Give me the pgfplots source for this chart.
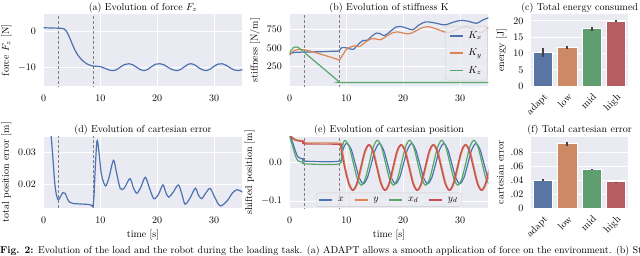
\documentclass[border=0pt]{standalone}
\usepackage{pgfplots}
\pgfplotsset{compat=1.18}
\definecolor{sbbg}{HTML}{EAEAF2}
\definecolor{c0}{HTML}{4C72B0}
\definecolor{c1}{HTML}{DD8452}
\definecolor{c2}{HTML}{55A868}
\definecolor{c3}{HTML}{C44E52}
\definecolor{b0}{HTML}{5975A4}
\definecolor{b1}{HTML}{CC8963}
\definecolor{b2}{HTML}{5F9E6E}
\definecolor{b3}{HTML}{B55D60}
\definecolor{errc}{HTML}{424242}
\definecolor{dashc}{HTML}{808080}
\pgfplotsset{
  sb/.style={scale only axis, axis background/.style={fill=sbbg},
    grid=major, grid style={white, line width=0.9pt},
    axis line style={draw=none}, major tick length=0pt,
    xticklabel shift=5pt, yticklabel shift=4pt,
    every axis title/.style={at={(0.5,1)}, anchor=base, yshift=4pt},
    scaled y ticks=false},
  tl/.style={sb, width=199pt, height=71.8pt, xmin=0, xmax=35, xtick={0,10,20,30}},
  br/.style={sb, width=97.3pt, height=71.8pt, xmin=-0.5, xmax=3.5, xtick={0,1,2,3},
    xticklabels={adapt,low,mid,high}, xmajorgrids=false,
    xticklabel style={rotate=45, anchor=north east, inner sep=1pt}},
  ln/.style={line width=1.2pt, mark=none, smooth, tension=0.5},
  dl/.style={dashc, line width=0.9pt, dash pattern=on 3pt off 2pt, forget plot},
  bb/.style={ybar, bar width=0.8, bar shift=0pt, draw=white, line width=1pt,
    error bars/y dir=both, error bars/y explicit, error bars/error mark=none,
    error bars/error bar style={line width=2pt, errc}},
  lg/.style={legend style={fill=sbbg, fill opacity=0.8, text opacity=1, draw=black!20,
    rounded corners=2pt, inner sep=2pt,
    /tikz/every odd column/.append style={column sep=3pt}},
    legend cell align=left,
    legend image code/.code={\draw[##1, line width=1.5pt, sharp plot] (0pt,0pt) -- (13pt,0pt);}},
}
\begin{document}
\begin{tikzpicture}
\path[use as bounding box] (0,0) rectangle (640pt,-255pt);

% (a)
\begin{axis}[tl, at={(43.5pt,-86.1pt)}, anchor=south west, ymin=-15.1, ymax=4.83,
  ytick={-10,0}, ylabel={force $F_z$ [N]}, title={(a) Evolution of force $F_z$}]
\addplot[dl] coordinates {(2.6,-20)(2.6,10)};
\addplot[dl] coordinates {(8.8,-20)(8.8,10)};
\addplot[ln, c0] coordinates {(0,1.1)(1,1.05)(2,1.0)(3,0.95)(3.6,0.8)(4,0.2)(4.5,-1.3)(5,-3.2)(5.5,-5.0)(6,-6.4)(6.5,-7.4)(7,-8.2)(7.5,-8.8)(8,-9.2)(8.6,-9.5)(9.3,-9.6)(10,-9.7)(10.7,-10.1)(11.5,-10.6)(12.3,-10.8)(13.0,-10.4)(13.7,-9.6)(14.3,-9.1)(15.0,-8.9)(15.7,-9.2)(16.4,-9.9)(17.0,-10.5)(17.6,-10.8)(18.3,-10.5)(19.0,-9.7)(19.8,-9.0)(20.5,-8.9)(21.2,-9.2)(22.0,-10.0)(22.8,-10.6)(23.5,-10.8)(24.2,-10.4)(24.9,-9.6)(25.5,-9.0)(26.0,-8.9)(26.7,-9.3)(27.4,-10.1)(28.0,-10.6)(28.6,-10.8)(29.3,-10.4)(30.0,-9.6)(30.7,-9.0)(31.4,-8.9)(32.1,-9.3)(32.8,-10.0)(33.5,-10.6)(34.2,-10.8)(35,-10.5)};
\end{axis}

% (b)
\begin{axis}[tl, lg, at={(289.5pt,-86.1pt)}, anchor=south west, ymin=-9, ymax=951,
  ytick={250,500,750}, ylabel={stiffness [N/m]}, title={(b) Evolution of stiffness K},
  legend style={at={(0.995,0.08)}, anchor=south east, row sep=5pt, inner sep=3.5pt}]
\addplot[dl] coordinates {(2.6,-100)(2.6,1000)};
\addplot[dl] coordinates {(8.8,-100)(8.8,1000)};
\addplot[ln, c0] coordinates {(0,420)(0.5,436)(1,442)(2,445)(3,447)(4,448)(5,450)(6,452)(7,455)(8,458)(8.7,462)(9.2,505)(10.2,500)(11.2,482)(12.1,550)(12.9,600)(13.7,605)(14.5,660)(15.3,700)(16.0,690)(16.7,665)(17.7,720)(18.7,780)(19.5,790)(20.6,765)(21.7,745)(22.8,810)(24.0,850)(25.6,835)(27.3,810)(28.8,845)(30.2,870)(31.6,855)(32.9,830)(34.0,875)(35,905)};
\addlegendentry{$K_x$}
\addplot[ln, c1] coordinates {(0,400)(0.5,450)(1,473)(1.5,482)(2.5,478)(3.5,462)(4.5,440)(5.5,418)(6.5,395)(7.5,372)(8.3,352)(8.8,342)(9.3,400)(10,480)(10.6,510)(11.5,530)(12.3,520)(13.2,570)(14.2,620)(15.0,625)(16.0,610)(17.0,655)(18.0,700)(19.0,715)(20.0,700)(21.0,690)(22.0,720)(23.3,770)(24.5,785)(26.2,745)(27.9,705)(29.5,750)(31.0,785)(32.4,745)(33.7,705)(35,780)};
\addlegendentry{$K_y$}
\addplot[ln, c2] coordinates {(0,420)(0.3,475)(0.7,505)(1.1,515)(1.5,510)(2.5,448)(3.5,384)(4.5,320)(5.5,256)(6.5,192)(7.5,128)(8.3,76)(8.8,45)(9.2,40)(20,40)(35,40)};
\addlegendentry{$K_z$}
\end{axis}

% (c)
\begin{axis}[br, at={(531pt,-86.1pt)}, anchor=south west, ymin=0, ymax=22,
  ytick={0,5,10,15,20}, ylabel={energy [J]}, title={(c) Total energy consumed}]
\addplot[bb, fill=b0] coordinates {(0,10.3) += (0,1.5) -= (0,1.3)};
\addplot[bb, fill=b1] coordinates {(1,11.8) += (0,0.5) -= (0,0.5)};
\addplot[bb, fill=b2] coordinates {(2,17.5) += (0,0.7) -= (0,0.6)};
\addplot[bb, fill=b3] coordinates {(3,19.9) += (0,0.3) -= (0,0.3)};
\end{axis}

% (d)
\begin{axis}[tl, at={(43.5pt,-208.3pt)}, anchor=south west, ymin=0.0125, ymax=0.03494,
  ytick={0.02,0.03}, yticklabel style={/pgf/number format/.cd, fixed, fixed zerofill, precision=2},
  xlabel={time [s]}, ylabel={total position error [m]}, title={(d) Evolution of cartesian error}]
\addplot[dl] coordinates {(2.6,0)(2.6,0.05)};
\addplot[dl] coordinates {(8.8,0)(8.8,0.05)};
\addplot[ln, c0] coordinates {(1.0,0.040)(1.35,0.035)(1.7,0.027)(2.0,0.020)(2.3,0.0165)(2.6,0.0151)(3.0,0.0162)(3.4,0.0174)(3.8,0.0172)(4.2,0.0155)(4.6,0.0144)(5.2,0.0140)(6,0.0139)(7,0.0138)(8,0.0137)(8.5,0.0134)(8.7,0.0130)(8.9,0.0170)(9.1,0.025)(9.4,0.0335)(9.7,0.031)(10.2,0.023)(10.9,0.0195)(11.5,0.022)(12.3,0.0275)(12.8,0.024)(13.5,0.0187)(14.2,0.0188)(15.2,0.0218)(15.8,0.019)(16.4,0.0172)(17.1,0.019)(17.9,0.0222)(18.6,0.019)(19.4,0.0155)(20.2,0.0168)(21,0.0198)(21.5,0.0175)(22,0.016)(22.8,0.0175)(23.7,0.0198)(24.3,0.0172)(24.9,0.0138)(25.8,0.0158)(26.7,0.0188)(27.2,0.0168)(27.8,0.0155)(28.5,0.0172)(29.3,0.0187)(30.1,0.016)(30.8,0.0137)(31.3,0.0133)(32.3,0.0148)(33.2,0.0172)(34,0.0183)(35,0.0176)};
\end{axis}

% (e)
\begin{axis}[tl, lg, at={(289.5pt,-208.3pt)}, anchor=south west, ymin=-0.119, ymax=0.0684,
  ytick={-0.1,0}, yticklabel style={/pgf/number format/.cd, fixed, fixed zerofill, precision=1},
  xlabel={time [s]}, ylabel={shifted position [m]}, title={(e) Evolution of cartesian position},
  legend columns=4, legend style={at={(0.5,0.02)}, anchor=south,
    /tikz/every even column/.append style={column sep=8pt}}]
\addplot[dl] coordinates {(2.55,-1)(2.55,1)};
\addplot[dl] coordinates {(8.8,-1)(8.8,1)};
\addplot[ln, c0] coordinates {(0,0.075)(0.5,0.055)(0.9,0.037)(1.2,0.024)(1.5,0.015)(2,0.011)(2.5,0.01)(2.7,0.004)(8.75,0.004)(9.2,0.025)(9.7,0.045)(10.15,0.05)(10.86,0.0346)(11.565,-0.0025)(12.27,-0.0396)(12.98,-0.055)(13.69,-0.0396)(14.395,-0.0025)(15.1,0.0346)(15.81,0.05)(16.52,0.0346)(17.225,-0.0025)(17.93,-0.0396)(18.64,-0.055)(19.35,-0.0396)(20.055,-0.0025)(20.76,0.0346)(21.47,0.05)(22.18,0.0346)(22.885,-0.0025)(23.59,-0.0396)(24.3,-0.055)(25.01,-0.0396)(25.715,-0.0025)(26.42,0.0346)(27.13,0.05)(27.84,0.0346)(28.545,-0.0025)(29.25,-0.0396)(29.96,-0.055)(30.67,-0.0396)(31.375,-0.0025)(32.08,0.0346)(32.79,0.05)(33.5,0.0346)(34.205,-0.0025)(34.91,-0.0396)(35.62,-0.055)};
\addlegendentry{$x$}
\addplot[ln, c1] coordinates {(0,0.075)(0.5,0.066)(1,0.061)(1.5,0.059)(2.0,0.058)(2.5,0.057)(2.7,0.052)(8.75,0.051)(9.15,0.042)(9.83,-0.0125)(10.54,-0.0546)(11.25,-0.072)(11.96,-0.0546)(12.665,-0.0125)(13.37,0.0296)(14.08,0.047)(14.79,0.0296)(15.495,-0.0125)(16.2,-0.0546)(16.91,-0.072)(17.62,-0.0546)(18.325,-0.0125)(19.03,0.0296)(19.74,0.047)(20.45,0.0296)(21.155,-0.0125)(21.86,-0.0546)(22.57,-0.072)(23.28,-0.0546)(23.985,-0.0125)(24.69,0.0296)(25.4,0.047)(26.11,0.0296)(26.815,-0.0125)(27.52,-0.0546)(28.23,-0.072)(28.94,-0.0546)(29.645,-0.0125)(30.35,0.0296)(31.06,0.047)(31.77,0.0296)(32.475,-0.0125)(33.18,-0.0546)(33.89,-0.072)(34.6,-0.0546)(35.305,-0.0125)};
\addlegendentry{$y$}
\addplot[ln, c2] coordinates {(0,0.07)(0.5,0.045)(0.9,0.025)(1.2,0.012)(1.5,0.005)(2,0.002)(2.5,0.001)(2.7,-0.003)(8.75,-0.003)(9.1,0.025)(9.45,0.05)(9.8,0.0585)(10.51,0.0414)(11.215,0)(11.92,-0.0414)(12.63,-0.0585)(13.34,-0.0414)(14.045,0)(14.75,0.0414)(15.46,0.0585)(16.17,0.0414)(16.875,0)(17.58,-0.0414)(18.29,-0.0585)(19.0,-0.0414)(19.705,0)(20.41,0.0414)(21.12,0.0585)(21.83,0.0414)(22.535,0)(23.24,-0.0414)(23.95,-0.0585)(24.66,-0.0414)(25.365,0)(26.07,0.0414)(26.78,0.0585)(27.49,0.0414)(28.195,0)(28.9,-0.0414)(29.61,-0.0585)(30.32,-0.0414)(31.025,0)(31.73,0.0414)(32.44,0.0585)(33.15,0.0414)(33.855,0)(34.56,-0.0414)(35.27,-0.0585)};
\addlegendentry{$x_d$}
\addplot[ln, c3] coordinates {(0,0.072)(0.5,0.064)(1,0.059)(1.5,0.057)(2,0.056)(2.5,0.055)(2.7,0.049)(8.75,0.048)(9.0,0.042)(9.68,-0.0125)(10.39,-0.0546)(11.1,-0.072)(11.81,-0.0546)(12.515,-0.0125)(13.22,0.0296)(13.93,0.047)(14.64,0.0296)(15.345,-0.0125)(16.05,-0.0546)(16.76,-0.072)(17.47,-0.0546)(18.175,-0.0125)(18.88,0.0296)(19.59,0.047)(20.3,0.0296)(21.005,-0.0125)(21.71,-0.0546)(22.42,-0.072)(23.13,-0.0546)(23.835,-0.0125)(24.54,0.0296)(25.25,0.047)(25.96,0.0296)(26.665,-0.0125)(27.37,-0.0546)(28.08,-0.072)(28.79,-0.0546)(29.495,-0.0125)(30.2,0.0296)(30.91,0.047)(31.62,0.0296)(32.325,-0.0125)(33.03,-0.0546)(33.74,-0.072)(34.45,-0.0546)(35.155,-0.0125)};
\addlegendentry{$y_d$}
\end{axis}

% (f)
\begin{axis}[br, at={(531pt,-208.3pt)}, anchor=south west, ymin=0, ymax=0.1026,
  ytick={0,0.02,0.04,0.06,0.08}, yticklabels={0,.02,.04,.06,.08},
  ylabel={cartesian error}, title={(f) Total cartesian error}]
\addplot[bb, fill=b0] coordinates {(0,0.0404) += (0,0.0008) -= (0,0.0008)};
\addplot[bb, fill=b1] coordinates {(1,0.092) += (0,0.003) -= (0,0.003)};
\addplot[bb, fill=b2] coordinates {(2,0.0557) += (0,0.0008) -= (0,0.0008)};
\addplot[bb, fill=b3] coordinates {(3,0.0376) += (0,0.0007) -= (0,0.0007)};
\end{axis}

\node[anchor=base west, inner sep=0pt] at (0pt,-253pt) {\textbf{Fig. 2:} Evolution of the load and the robot during the loading task. (a) ADAPT allows a smooth application of force on the environment. (b) Stiffness};
\end{tikzpicture}
\end{document}
